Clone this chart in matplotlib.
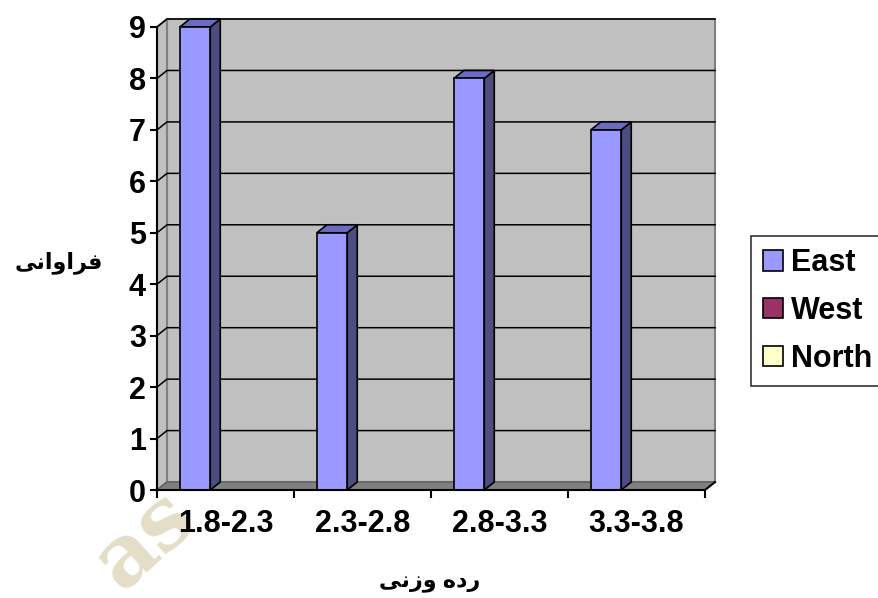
import matplotlib
matplotlib.use("Agg")
import matplotlib.pyplot as plt
from matplotlib.patches import Polygon, Rectangle, Patch

# data
categories = ['1.8-2.3', '2.3-2.8', '2.8-3.3', '3.3-3.8']
east = [9, 5, 8, 7]
series_names = ['East', 'West', 'North']
series_colors = ['#9999ff', '#993366', '#ffffcc']
yticks = list(range(0, 10))

# arabic labels (presentation forms, visual order)
ylab = '\uFEF0\uFEE7\uFE8D\uFEED\uFE8D\uFEAE\uFED3'          # faravani
xlab = '\uFEF0\uFEE7\uFEAF\uFEED \uFEE9\uFEA9\uFEAD'         # radeh vazni

plt.rcParams['font.family'] = ['Liberation Sans', 'DejaVu Sans']
plt.rcParams['font.weight'] = 'bold'

fig = plt.figure(figsize=(8.79, 5.98), dpi=100)
fig.patch.set_facecolor('white')

# faint watermark letters in the lower left
fig.text(122/879, 1-592/598, 'as', fontsize=62, family='DejaVu Serif',
         color='#e4ddc7', rotation=42, rotation_mode='anchor',
         ha='left', va='baseline', zorder=-5)

ax = fig.add_axes([157/879, (598-490)/598, 548/879, 463/598])
ax.patch.set_alpha(0)
ncat = len(categories)
ymax = 9
dx, dy = 0.073, 0.155   # depth offset in data units

# back wall
ax.add_patch(Rectangle((dx, dy), ncat, ymax, facecolor='#c0c0c0',
                       edgecolor='#808080', lw=1.5, clip_on=False, zorder=1))
# side wall
ax.add_patch(Polygon([(0, 0), (dx, dy), (dx, ymax+dy), (0, ymax)], closed=True,
                     facecolor='#c0c0c0', edgecolor='#808080', lw=1.5,
                     clip_on=False, zorder=1))
# floor
ax.add_patch(Polygon([(0, 0), (ncat, 0), (ncat+dx, dy), (dx, dy)], closed=True,
                     facecolor='#808080', edgecolor='#606060', lw=1,
                     clip_on=False, zorder=1))
# gridlines
for k in yticks[1:]:
    ax.plot([0, dx, ncat+dx], [k, k+dy, k+dy], color='black', lw=1.1,
            clip_on=False, zorder=2)
ax.plot([ncat, ncat+dx], [0, dy], color='black', lw=1.5, clip_on=False, zorder=5)

# bars
off, w = 0.1667, 0.222
for i, v in enumerate(east):
    l = i + off
    r = l + w
    ax.add_patch(Polygon([(r, 0), (r+dx, dy), (r+dx, v+dy), (r, v)], closed=True,
                         facecolor='#4d4d80', edgecolor='black', lw=1.2,
                         clip_on=False, zorder=3))
    ax.add_patch(Polygon([(l, v), (r, v), (r+dx, v+dy), (l+dx, v+dy)], closed=True,
                         facecolor='#6b6bc4', edgecolor='black', lw=1.2,
                         clip_on=False, zorder=3))
    ax.bar(l, v, width=w, align='edge', color=series_colors[0],
           edgecolor='black', lw=1.2, zorder=4, clip_on=False)

ax.set_xlim(0, ncat)
ax.set_ylim(0, ymax)
for s in ['top', 'right']:
    ax.spines[s].set_visible(False)
for s in ['left', 'bottom']:
    ax.spines[s].set_color('black')
    ax.spines[s].set_linewidth(1.5)
    ax.spines[s].set_zorder(5)

ax.set_yticks(yticks)
ax.set_yticklabels([str(t) for t in yticks])
ax.set_xticks(range(0, ncat+1))
ax.set_xticklabels([])
ax.set_xticks([i + 0.5 for i in range(ncat)], minor=True)
ax.set_xticklabels(categories, minor=True)
ax.tick_params(axis='y', length=5, width=1.5, pad=3, labelsize=22)
ax.tick_params(axis='x', which='major', length=6, width=1.5)
ax.tick_params(axis='x', which='minor', length=0, pad=14, labelsize=22)

ax.set_xlabel(xlab, fontsize=16, fontweight='bold', va='center')
ax.xaxis.set_label_coords(0.498, -0.199)
ax.set_ylabel(ylab, fontsize=16, fontweight='bold', rotation=0,
              ha='center', va='center')
ax.yaxis.set_label_coords(-0.179, 0.492)

handles = [Patch(facecolor=c, edgecolor='black', lw=1.2) for c in series_colors]
leg = fig.legend(handles, series_names, loc='upper left',
                 bbox_to_anchor=(751/879, 1-236/598), frameon=True,
                 fancybox=False, edgecolor='black', fontsize=22,
                 handlelength=0.65, handleheight=0.65, handletextpad=0.25,
                 borderpad=0.4, labelspacing=0.58, borderaxespad=0)
leg.get_frame().set_linewidth(1.2)
for t in leg.get_texts():
    t.set_fontweight('bold')

fig.savefig('out.png', dpi=100)
